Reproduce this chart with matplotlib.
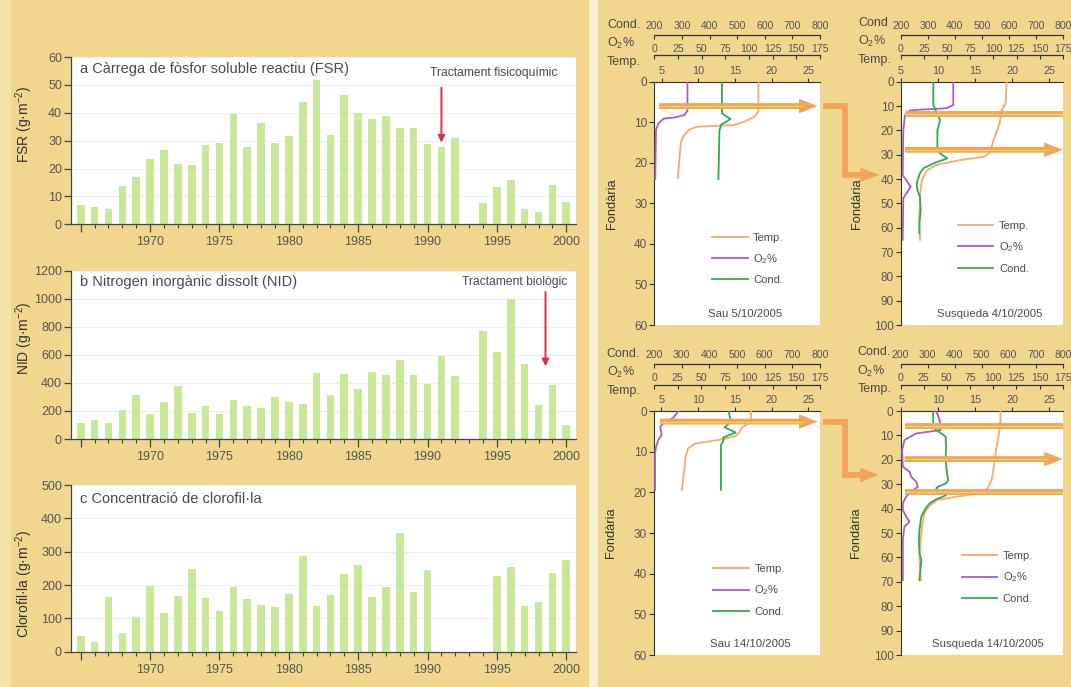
import numpy as np
import matplotlib
matplotlib.use('Agg')
import matplotlib.pyplot as plt
from matplotlib.lines import Line2D
from matplotlib.patches import FancyArrowPatch, Rectangle
import matplotlib.transforms as mtrans

plt.rcParams['font.family'] = ['Liberation Sans', 'DejaVu Sans']
plt.rcParams['mathtext.default'] = 'regular'

# ---------------- data: left bar charts ----------------
years = list(range(1965, 2001))
fsr = [7.0, 6.1, 5.5, 13.8, 16.9, 23.5, 26.5, 21.6, 21.2, 28.3, 29.0, 39.7, 27.6, 36.5, 29.1, 31.8,
       43.8, 51.7, 32.2, 46.4, 39.8, 37.8, 38.8, 34.5, 34.5, 28.9, 27.7, 30.8, None, 7.5, 13.5, 15.8,
       5.5, 4.5, 14.1, 8.1]
nid = [116, 133, 116, 207, 312, 176, 262, 381, 186, 238, 178, 278, 238, 221, 298, 262,
       252, 474, 312, 464, 359, 481, 455, 564, 457, 390, 595, 448, None, 773, 621, 997,
       535, 243, 386, 100]
chl = [48, 29, 165, 55, 104, 197, 116, 167, 248, 162, 122, 193, 159, 141, 133, 172,
       288, 136, 169, 234, 261, 163, 194, 355, 180, 244, None, None, None, None, 227, 253,
       136, 148, 236, 275]
year_ticks = [1965, 1970, 1975, 1980, 1985, 1990, 1995, 2000]
year_tick_labels = ['', '1970', '1975', '1980', '1985', '1990', '1995', '2000']

treat_a = dict(year=1991, y_from=49, y_to=29.3, label='Tractament fisicoquímic', lx=1994.8, ly=54.4)
treat_b = dict(year=1998.5, y_from=1050, y_to=520, label='Tractament biològic', lx=1996.3, ly=1121)

# ---------------- data: depth profiles ----------------
# Sau 5/10/2005
sau1_temp_d = [0, 7.4, 8.6, 9.9, 10.7, 11.1, 11.9, 13.6, 15.2, 23.8]
sau1_temp = [18.2, 18.2, 17.7, 16.2, 14.8, 9.8, 8.7, 7.9, 7.6, 7.2]
sau1_o2_d = [0, 7.2, 8.2, 8.8, 9.1, 10.3, 11.8, 24]
sau1_o2 = [35, 35, 32, 22, 10, 4.3, 1.8, 1.0]
sau1_cond_d = [0, 7.8, 8.6, 9.2, 9.8, 10.6, 12, 24]
sau1_cond = [445, 445, 462, 476, 462, 442, 436, 432]
sau1_arrow = 6.0

# Susqueda 4/10/2005
sus1_temp_d = [0, 8.9, 11.6, 17.1, 24, 28.8, 30.8, 32.2, 34.2, 36.3, 40.4, 47.3, 55.5, 65]
sus1_temp = [19.25, 19.1, 18.6, 18.3, 17.5, 17.0, 16.3, 13.0, 9.8, 8.5, 7.8, 7.56, 7.47, 7.56]
sus1_o2_d = [0, 9.6, 10.9, 11.4, 11.8, 13.7, 20, 38.4, 43.2, 47.9, 65]
sus1_o2 = [56.6, 56.6, 49.4, 25, 9.7, 4.3, 2.5, 1.8, 10.5, 2.5, 1.8]
sus1_cond_d = [0, 9.6, 15.8, 20, 26.7, 29.5, 31.5, 33.6, 35.6, 37.7, 41.8, 44.5, 47.3, 52.7, 58.2, 62.3]
sus1_cond = [320, 320, 345, 335, 335, 345, 372, 320, 283, 270, 258, 261, 270, 273, 268, 268]
sus1_bands = [13.4]
sus1_arrow = 28.0
sus1_entry = 38.3

# Sau 14/10/2005
sau2_temp_d = [0, 2.4, 3.0, 4.0, 5.5, 6.3, 7.1, 8.0, 9.2, 11.2, 15.3, 19.4]
sau2_temp = [17.2, 17.2, 16.9, 16.0, 15.5, 15.0, 12.8, 9.6, 8.65, 8.3, 8.06, 7.8]
sau2_o2_d = [0, 1.6, 3.0, 3.9, 5.9, 7.1, 8.8, 10.5, 19.4]
sau2_o2 = [25.8, 20.5, 9.9, 6.4, 8.1, 4.6, 2.1, 1.1, 1.1]
sau2_cond_d = [0, 1.2, 2.6, 4.0, 5.3, 6.5, 7.1, 8.4, 19.4]
sau2_cond = [470, 473, 479, 455, 495, 450, 452, 442, 442]
sau2_arrow = 2.6

# Susqueda 14/10/2005
sus2_temp_d = [0, 3.7, 9.2, 16, 22.8, 28.3, 31.7, 33.7, 35.1, 36.5, 39.2, 42, 47.4, 55.6, 61, 69.3]
sus2_temp = [18.4, 18.4, 18.2, 17.8, 17.5, 17.2, 16.7, 15.6, 12.5, 9.8, 8.7, 8.1, 7.8, 7.55, 7.46, 7.64]
sus2_o2_d = [0, 3.7, 7.8, 9.2, 11.9, 16, 22.8, 24.9, 26.9, 29, 31, 33.1, 35.1, 37.8, 40.6, 43.3,
             45.4, 47.4, 52.9, 69.3]
sus2_o2 = [38.6, 42.2, 43.3, 17.0, 4.3, 1.8, 2.5, 9.7, 11.5, 17.0, 18.8, 11.5, 6.1, 2.5, 2.5, 6.1,
           9.7, 4.3, 2.5, 2.5]
sus2_cond_d = [0, 6.4, 7.8, 9.2, 10.5, 14.6, 20.1, 22.8, 28.3, 29.6, 31, 31.7, 33.1, 34.4, 35.1,
               36.2, 37.8, 39.9, 43.3, 48.8, 52.9, 58.3, 61.1, 69.3]
sus2_cond = [320, 322, 332, 351, 367, 369, 367, 369, 376, 369, 339, 332, 345, 369, 357, 332, 308,
             293, 277, 270, 268, 270, 277, 270]
sus2_bands = [6.1, 33.3]
sus2_arrow = 19.7
sus2_entry = 26.2

cond_ticks = [200, 300, 400, 500, 600, 700, 800]
o2_ticks = [0, 25, 50, 75, 100, 125, 150, 175]
temp_ticks = [5, 10, 15, 20, 25]

# ---------------- style ----------------
BG = '#f0d78d'
BAR = '#c8ea98'
RED = '#d6304e'
TXT = '#4a4a4a'
TICK = '#555555'
C_TEMP = '#f5a96b'
C_O2 = '#a35fc8'
C_COND = '#2fab55'
ORANGE = '#f5a35a'
YELLOW = '#f6dc4e'

W, H = 1071, 687
fig = plt.figure(figsize=(W / 100, H / 100), dpi=100, facecolor=BG)


def rect_px(l, t, r, b):
    return [l / W, 1 - b / H, (r - l) / W, (b - t) / H]


# background decorations
fig.add_artist(Rectangle((589 / W, 0), 9 / W, 1, transform=fig.transFigure,
                         facecolor='#f8eed0', edgecolor='none', zorder=0))
fig.add_artist(Rectangle((0, 0), 11 / W, 1, transform=fig.transFigure,
                         facecolor='#f4e2a6', edgecolor='none', zorder=0))

# ---------------- bar charts ----------------
bar_panels = [
    dict(vals=fsr, ymax=60, ystep=10, ylabel='FSR (g·m$^{-2}$)', ly=0.60,
         title='a Càrrega de fòsfor soluble reactiu (FSR)', box=(71, 57, 576, 224.3), ty=0.928),
    dict(vals=nid, ymax=1200, ystep=200, ylabel='NID (g·m$^{-2}$)', ly=0.60,
         title='b Nitrogen inorgànic dissolt (NID)', box=(71, 271, 576, 439), ty=0.935),
    dict(vals=chl, ymax=500, ystep=100, ylabel='Clorofil·la (g·m$^{-2}$)', ly=0.406,
         title='c Concentració de clorofil·la', box=(71, 485, 576, 651.7), ty=0.916),
]
bar_axes = []
for p in bar_panels:
    ax = fig.add_axes(rect_px(*p['box']))
    ax.set_facecolor('white')
    xs = [y for y, v in zip(years, p['vals']) if v is not None]
    hs = [v for v in p['vals'] if v is not None]
    ax.bar(xs, hs, width=0.55, color=BAR, zorder=2)
    ax.set_xlim(1964.3, 2000.7)
    ax.set_ylim(0, p['ymax'])
    ax.set_yticks(np.arange(0, p['ymax'] + 1, p['ystep']))
    ax.set_xticks(year_ticks)
    ax.set_xticklabels(year_tick_labels)
    ax.set_xticks(years, minor=True)
    ax.tick_params(axis='x', which='major', direction='out', length=6, width=0.9, color='#444',
                   labelsize=9, labelcolor=TICK, pad=2.5)
    ax.tick_params(axis='x', which='minor', direction='out', length=3, width=0.8, color='#444')
    ax.tick_params(axis='y', direction='out', length=5, width=0.9, color='#444',
                   labelsize=9, labelcolor=TICK, pad=1.5)
    for s in ('top', 'right'):
        ax.spines[s].set_visible(False)
    for s in ('left', 'bottom'):
        ax.spines[s].set_color('#444')
        ax.spines[s].set_linewidth(0.9)
    ax.yaxis.grid(True, color='#ededed', lw=0.6)
    ax.set_axisbelow(True)
    ax.set_ylabel(p['ylabel'], fontsize=10, color='#333')
    ax.yaxis.set_label_coords(-0.071, p['ly'])
    ax.text(0.018, p['ty'], p['title'], transform=ax.transAxes, fontsize=10.5, color=TXT,
            va='center', ha='left')
    bar_axes.append(ax)

for ax, t in ((bar_axes[0], treat_a), (bar_axes[1], treat_b)):
    ax.annotate('', xy=(t['year'], t['y_to']), xytext=(t['year'], t['y_from']),
                arrowprops=dict(arrowstyle='-|>', color=RED, lw=1.4, mutation_scale=10,
                                shrinkA=0, shrinkB=0))
    ax.text(t['lx'], t['ly'], t['label'], fontsize=8.7, color=TXT, ha='center', va='center')


# ---------------- depth profiles ----------------
def band(ax, d, x0, x1, head):
    if head:
        ax.annotate('', xy=(x1, d), xycoords=('axes fraction', 'data'),
                    xytext=(x0, d), textcoords=('axes fraction', 'data'),
                    arrowprops=dict(arrowstyle='simple,head_length=0.95,head_width=0.75,tail_width=0.3',
                                    color=ORANGE, lw=0, mutation_scale=14, shrinkA=0, shrinkB=0),
                    zorder=5)
        ax.axhline(d, xmin=x0, xmax=x1 - 0.09, color=YELLOW, lw=0.8, zorder=6)
    else:
        ax.axhline(d, xmin=x0, xmax=x1, color=ORANGE, lw=4.2, zorder=5, solid_capstyle='butt')
        ax.axhline(d, xmin=x0, xmax=x1, color=YELLOW, lw=0.8, zorder=6)


def profile(box, tlim, dmax, temp, o2, cond, caption, cap_x, leg_xy, cond_name, name_x, name_y,
            ylab_x, bands, arrow, arrow_x):
    ax = fig.add_axes(rect_px(*box))
    ax.set_facecolor('white')
    ax_o2 = ax.twiny()
    ax_c = ax.twiny()
    ax.set_xlim(*tlim)
    ax.set_ylim(dmax, 0)
    ax_o2.set_xlim(0, 175)
    ax_c.set_xlim(200, 800)

    lt, = ax.plot(temp[1], temp[0], color=C_TEMP, lw=1.3, zorder=3)
    lo, = ax_o2.plot(o2[1], o2[0], color=C_O2, lw=1.3, zorder=3)
    lc, = ax_c.plot(cond[1], cond[0], color=C_COND, lw=1.3, zorder=3)

    # main axis: depth (left) and temperature (top)
    ax.xaxis.tick_top()
    ax.set_xticks(temp_ticks)
    ax.set_yticks(np.arange(0, dmax + 1, 10))
    ax.tick_params(axis='x', direction='out', length=3, width=0.8, color='#333',
                   labelsize=7.8, labelcolor=TICK, pad=1.2)
    ax.tick_params(axis='y', direction='out', length=3.5, width=0.8, color='#333',
                   labelsize=8.5, labelcolor=TICK, pad=1.5)
    for s in ('right', 'bottom'):
        ax.spines[s].set_visible(False)
    for s in ('left', 'top'):
        ax.spines[s].set_color('#333')
        ax.spines[s].set_linewidth(0.8)
    ax.set_ylabel('Fondària', fontsize=9.3, color='#333')
    ax.yaxis.set_label_coords(ylab_x, 0.5)

    for tw, ticks, off, pad in ((ax_o2, o2_ticks, 19, 1.0), (ax_c, cond_ticks, 33.8, 3.0)):
        for s in ('left', 'right', 'bottom'):
            tw.spines[s].set_visible(False)
        tw.spines['top'].set_position(('outward', off))
        tw.spines['top'].set_color('#333')
        tw.spines['top'].set_linewidth(0.9)
        tw.xaxis.tick_top()
        tw.set_xticks(ticks)
        tw.tick_params(axis='x', direction='in', length=3, width=0.8, color='#333',
                       labelsize=7.6, labelcolor=TICK, pad=pad)

    for txt, yy in zip((cond_name, 'O$_2$%', 'Temp.'), name_y):
        ax_c.text(name_x, yy, txt, transform=ax.transAxes, fontsize=9, color=TXT,
                  ha='left', va='center')

    ax_c.legend([lt, lo, lc], ['Temp.', 'O$_2$%', 'Cond.'], loc='upper left',
                bbox_to_anchor=leg_xy, bbox_transform=ax.transAxes, frameon=False,
                fontsize=8, handlelength=3.2, handletextpad=0.5, labelspacing=0.85,
                borderpad=0, borderaxespad=0, labelcolor=TXT)
    ax_c.text(cap_x, 0.045, caption, transform=ax.transAxes, fontsize=8.2, color=TXT,
              ha='center', va='center')

    for d in bands:
        band(ax_c, d, 0.025, 1.0, False)
    band(ax_c, arrow, arrow_x[0], arrow_x[1], True)
    return ax


sau1 = profile((654.3, 81.7, 820, 325), (3.99, 26.6), 60,
               (sau1_temp_d, sau1_temp), (sau1_o2_d, sau1_o2), (sau1_cond_d, sau1_cond),
               'Sau 5/10/2005', 0.547, (0.348, 0.38), 'Cond.', -0.285, (1.233, 1.159, 1.081),
               -0.222, [], sau1_arrow, (0.028, 0.985))
sus1 = profile((901, 81.7, 1062.7, 325), (5.0, 26.8), 100,
               (sus1_temp_d, sus1_temp), (sus1_o2_d, sus1_o2), (sus1_cond_d, sus1_cond),
               'Susqueda 4/10/2005', 0.55, (0.352, 0.428), 'Cond', -0.266, (1.24, 1.164, 1.089),
               -0.235, sus1_bands, sus1_arrow, (0.025, 1.0))
sau2 = profile((654, 411, 820, 655), (3.99, 26.6), 60,
               (sau2_temp_d, sau2_temp), (sau2_o2_d, sau2_o2), (sau2_cond_d, sau2_cond),
               'Sau 14/10/2005', 0.578, (0.357, 0.372), 'Cond.', -0.285, (1.233, 1.159, 1.081),
               -0.222, [], sau2_arrow, (0.036, 0.985))
sus2 = profile((900.5, 411, 1062.7, 655), (4.9, 26.8), 100,
               (sus2_temp_d, sus2_temp), (sus2_o2_d, sus2_o2), (sus2_cond_d, sus2_cond),
               'Susqueda 14/10/2005', 0.54, (0.377, 0.426), 'Cond.', -0.266, (1.24, 1.164, 1.089),
               -0.235, sus2_bands, sus2_arrow, (0.025, 1.0))


# ---------------- L-shaped connectors between Sau and Susqueda ----------------
def disp(ax, xf, d):
    tr = mtrans.blended_transform_factory(ax.transAxes, ax.transData)
    return tr.transform((xf, d))


inv = fig.transFigure.inverted()
for a_src, d_src, a_dst, d_dst in ((sau1, sau1_arrow, sus1, sus1_entry),
                                   (sau2, sau2_arrow, sus2, sus2_entry)):
    A = disp(a_src, 1.0, d_src) + np.array([3.0, 0.0])
    B = A + np.array([22.0, 0.0])
    D = disp(a_dst, 0.0, d_dst) - np.array([22.0, 0.0])
    C = np.array([B[0], D[1]])
    pts = inv.transform(np.array([A, B, C + np.array([0, -3.0])]))
    fig.add_artist(Line2D(pts[:, 0], pts[:, 1], transform=fig.transFigure, color=ORANGE,
                          lw=4.2, solid_joinstyle='miter', solid_capstyle='butt', zorder=4))
    c_f, d_f = inv.transform(np.array([C - np.array([2.1, 0]), D]))
    fig.add_artist(FancyArrowPatch(tuple(c_f), tuple(d_f), transform=fig.transFigure,
                                   arrowstyle='simple,head_length=0.95,head_width=0.75,tail_width=0.3',
                                   color=ORANGE, lw=0, mutation_scale=14, shrinkA=0, shrinkB=0,
                                   zorder=4))

fig.savefig('out.png', dpi=100, facecolor=BG)
